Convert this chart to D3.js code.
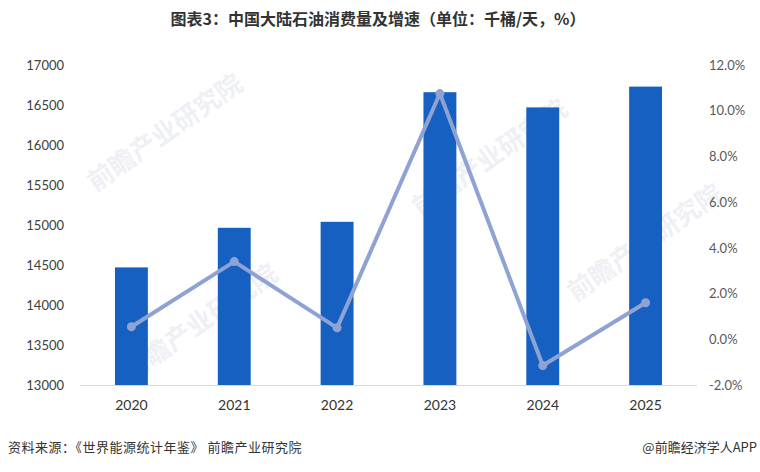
<!DOCTYPE html>
<html><head><meta charset="utf-8">
<script src="https://cdn.jsdelivr.net/npm/d3@7"></script>
<style>
html,body{margin:0;padding:0;background:#fff;}
svg{display:block;}
</style>
</head><body>
<svg id="chart" width="760" height="472"></svg>
<script>
const categories = ["2020","2021","2022","2023","2024","2025"];
const consumption = [14470, 14965, 15040, 16660, 16470, 16730];
const growth = [0.55, 3.4, 0.5, 10.75, -1.15, 1.6];
const leftTicks = [13000,13500,14000,14500,15000,15500,16000,16500,17000];
const rightTicks = [-2,0,2,4,6,8,10,12];
const titleText = "图表3：中国大陆石油消费量及增速（单位：千桶/天，%）";
const sourceText = "资料来源：《世界能源统计年鉴》 前瞻产业研究院";
const creditText = "@前瞻经济学人APP";
const watermarkText = "前瞻产业研究院";

const svg = d3.select("#chart");
const m = {left:80, right:697, top:65, bottom:385};
const font = "Lato, 'Noto Sans CJK SC', sans-serif";
const cjk = "'Noto Sans CJK SC', sans-serif";

const x = d3.scaleBand().domain(categories).range([m.left, m.right]).paddingInner(0.68).paddingOuter(0.34);
const yL = d3.scaleLinear().domain([13000,17000]).range([m.bottom, m.top]);
const yR = d3.scaleLinear().domain([-2,12]).range([m.bottom, m.top]);

// faint watermarks
const wm = svg.append("g").attr("font-family",cjk).attr("font-weight","bold").attr("font-size",26).attr("fill","#eef0f5");
[[170,140],[205,330],[495,165],[650,250]].forEach(p=>{
  wm.append("text").attr("transform",`translate(${p[0]},${p[1]}) rotate(-35)`).attr("text-anchor","middle").text(watermarkText);
});

// title
svg.append("text").attr("x",378).attr("y",25).attr("text-anchor","middle")
  .attr("font-family",cjk).attr("font-weight","bold").attr("font-size",16).attr("fill","#333")
  .text(titleText);

// baseline
svg.append("line").attr("x1",m.left).attr("x2",m.right).attr("y1",m.bottom+0.5).attr("y2",m.bottom+0.5)
  .attr("stroke","#d9d9d9").attr("stroke-width",1);

// bars
svg.append("g").selectAll("rect").data(consumption).join("rect")
  .attr("x",(d,i)=>x(categories[i]))
  .attr("width",x.bandwidth())
  .attr("y",d=>yL(d))
  .attr("height",d=>yL(13000)-yL(d))
  .attr("fill","#1560c0");

// left axis
const axL = d3.axisLeft(yL).tickValues(leftTicks).tickFormat(d3.format("d")).tickSize(0).tickPadding(0);
const gL = svg.append("g").attr("transform","translate(64,0)").call(axL);
gL.select(".domain").remove();
gL.selectAll("text").attr("font-family",font).attr("font-size",13).attr("fill","#404040");

// right axis
const axR = d3.axisRight(yR).tickValues(rightTicks).tickFormat(d=>d.toFixed(1)+"%").tickSize(0).tickPadding(0);
const gR = svg.append("g").attr("transform","translate(709,0)").call(axR);
gR.select(".domain").remove();
gR.selectAll("text").attr("font-family",font).attr("font-size",13).attr("fill","#595959");

// x axis
const axB = d3.axisBottom(x).tickSize(0).tickPadding(0);
const gB = svg.append("g").attr("transform",`translate(0,${m.bottom+15})`).call(axB);
gB.select(".domain").remove();
gB.selectAll("text").attr("font-family",font).attr("font-size",14).attr("fill","#333").attr("dy","0.71em");

// line
const cx = (d,i)=>x(categories[i])+x.bandwidth()/2;
const line = d3.line().x(cx).y(d=>yR(d));
svg.append("path").datum(growth).attr("d",line).attr("fill","none")
  .attr("stroke","#8fa2d4").attr("stroke-width",4).attr("stroke-linejoin","round");
svg.append("g").selectAll("circle").data(growth).join("circle")
  .attr("cx",cx).attr("cy",d=>yR(d)).attr("r",4.5).attr("fill","#8fa2d4");

// footer
svg.append("text").attr("x",8).attr("y",452).attr("font-family",cjk).attr("font-size",13).attr("fill","#333")
  .attr("letter-spacing","0.5px").text(sourceText);
svg.append("text").attr("x",757).attr("y",452).attr("text-anchor","end").attr("font-family",cjk).attr("font-size",13).attr("fill","#333")
  .text(creditText);
</script>
</body></html>
